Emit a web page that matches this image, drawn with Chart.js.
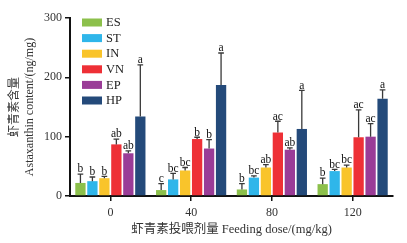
<!DOCTYPE html>
<html>
<head>
<meta charset="utf-8">
<script src="https://cdn.jsdelivr.net/npm/chart.js@4.4.0/dist/chart.umd.min.js"></script>
<style>
  html, body { margin: 0; padding: 0; background: #fff; }
  #wrap { width: 407px; height: 243px; position: relative; }
</style>
</head>
<body>
<div id="wrap"><canvas id="c" width="407" height="243"></canvas></div>
<script>
const categories = ["0", "40", "80", "120"];
const seriesNames = ["ES", "ST", "IN", "VN", "EP", "HP"];
const seriesColors = ["#8CC04B", "#2FB6EA", "#F9C42B", "#EE3036", "#9A3C97", "#244A7A"];

const ES = [22, 10, 11, 20];
const ST = [25, 28, 31, 42];
const IN = [30, 43, 48, 48];
const VN = [87, 96, 107, 99];
const EP = [72, 80, 78, 100];
const HP = [134, 187, 113, 164];

// upper end of the error bars
const ES_err = [37, 21, 21, 30];
const ST_err = [32, 38, 34, 45];
const IN_err = [33, 48, 53, 52];
const VN_err = [96, 99, 126, 145];
const EP_err = [76, 95, 81, 122];
const HP_err = [221, 241, 178, 179];

// significance letters
const ES_sig = ["b", "c", "b", "b"];
const ST_sig = ["b", "bc", "bc", "bc"];
const IN_sig = ["b", "bc", "ab", "bc"];
const VN_sig = ["ab", "b", "ac", "ac"];
const EP_sig = ["ab", "b", "ab", "ac"];
const HP_sig = ["a", "a", "a", "a"];

const yTicks = [0, 100, 200, 300];

const values = [ES, ST, IN, VN, EP, HP];
const errs = [ES_err, ST_err, IN_err, VN_err, EP_err, HP_err];
const sigs = [ES_sig, ST_sig, IN_sig, VN_sig, EP_sig, HP_sig];

const SERIF = "'Liberation Serif', 'DejaVu Serif', serif";
const CJK = "'Liberation Serif', 'Noto Sans CJK SC', serif";

const errorPlugin = {
  id: 'errs',
  afterDatasetsDraw(chart) {
    const ctx = chart.ctx;
    const y = chart.scales.y;
    ctx.save();
    chart.data.datasets.forEach((ds, di) => {
      const meta = chart.getDatasetMeta(di);
      meta.data.forEach((bar, i) => {
        const top = y.getPixelForValue(errs[di][i]);
        const base = y.getPixelForValue(values[di][i]);
        const cap = bar.width * 0.55;
        ctx.strokeStyle = '#3a3a3a';
        ctx.lineWidth = 1.3;
        ctx.beginPath();
        ctx.moveTo(bar.x, base);
        ctx.lineTo(bar.x, top);
        ctx.moveTo(bar.x - cap / 2, top);
        ctx.lineTo(bar.x + cap / 2, top);
        ctx.stroke();
        ctx.fillStyle = '#111';
        ctx.font = '11.5px ' + SERIF;
        ctx.textAlign = 'center';
        ctx.textBaseline = 'bottom';
        ctx.fillText(sigs[di][i], bar.x, top + 1);
      });
    });
    ctx.restore();
  }
};

const legendPlugin = {
  id: 'customLegend',
  afterDraw(chart) {
    const ctx = chart.ctx;
    ctx.save();
    chart.data.datasets.forEach((ds, i) => {
      const cy = 22.5 + i * 15.6;
      ctx.fillStyle = ds.backgroundColor;
      ctx.fillRect(82, cy - 4, 20, 8);
      ctx.fillStyle = '#222';
      ctx.font = '12.5px ' + SERIF;
      ctx.textAlign = 'left';
      ctx.textBaseline = 'middle';
      ctx.fillText(ds.label, 106, cy + 0.5);
    });
    ctx.restore();
  }
};

new Chart(document.getElementById('c'), {
  type: 'bar',
  data: {
    labels: categories,
    datasets: seriesNames.map((n, i) => ({
      label: n,
      data: values[i],
      backgroundColor: seriesColors[i],
      borderWidth: 0,
      categoryPercentage: 0.89,
      barPercentage: 0.86
    }))
  },
  options: {
    responsive: false,
    animation: false,
    devicePixelRatio: 1,
    layout: { padding: { top: 18, right: 14, left: 0, bottom: 0 } },
    plugins: { legend: { display: false }, tooltip: { enabled: false } },
    scales: {
      x: {
        offset: true,
        grid: { display: true, drawOnChartArea: false, drawTicks: true, tickLength: 5, color: '#111', lineWidth: 1.5, offset: false },
        border: { display: true, color: '#111', width: 2 },
        ticks: { color: '#333', font: { family: SERIF, size: 12 }, padding: 5 },
        title: { display: true, text: '虾青素投喂剂量 Feeding dose/(mg/kg)', color: '#333', font: { family: CJK, size: 12.5, lineHeight: 1.2 }, padding: { top: 2, bottom: 6 } },
        afterFit(s) { s.height = 47; }
      },
      y: {
        min: 0, max: 300,
        afterBuildTicks(s) { s.ticks = yTicks.map(v => ({ value: v })); },
        grid: { display: true, drawOnChartArea: false, drawTicks: true, tickLength: 5, color: '#111', lineWidth: 1.5 },
        border: { display: true, color: '#111', width: 2 },
        ticks: { color: '#333', font: { family: SERIF, size: 12 }, padding: 3 },
        title: { display: true, text: ['虾青素含量', 'Astaxanthin content/(ng/mg)'], color: '#333', font: { family: CJK, size: 12, lineHeight: 1.25 }, padding: { top: 7.5, bottom: 0 } },
        afterFit(s) { s.width = 70; }
      }
    }
  },
  plugins: [errorPlugin, legendPlugin]
});
</script>
</body>
</html>
